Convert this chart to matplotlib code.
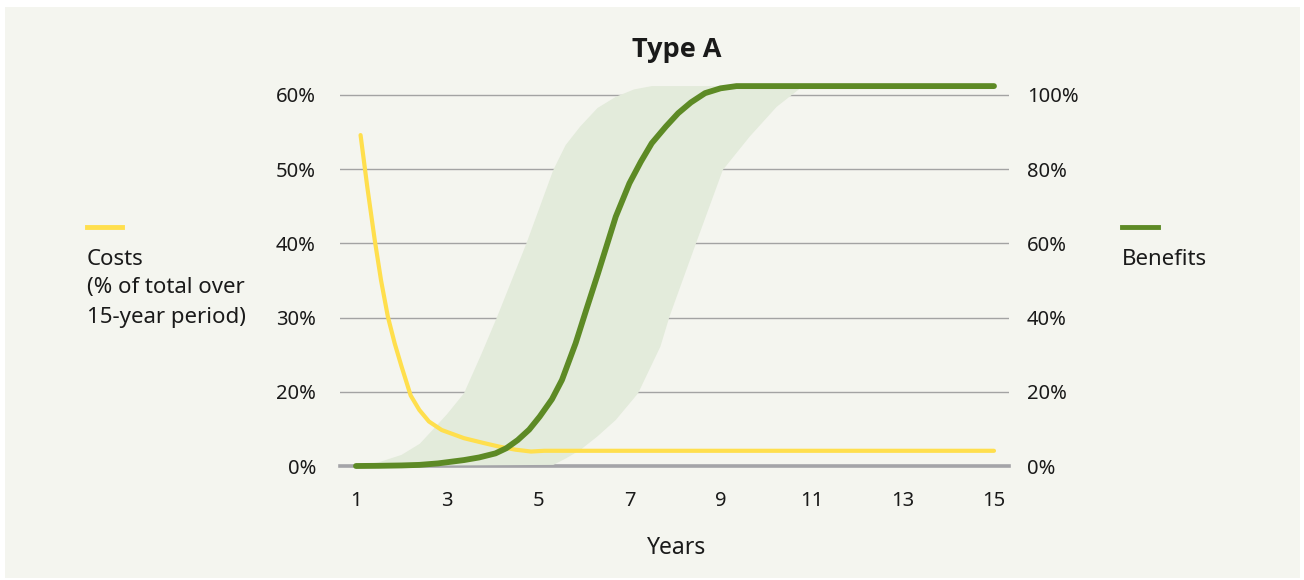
import numpy as np
import matplotlib
matplotlib.use("Agg")
import matplotlib.pyplot as plt
from matplotlib.patches import Rectangle

plt.rcParams['font.family'] = ['Noto Sans', 'DejaVu Sans']

# ---------------- data ----------------
years_ticks = [1, 3, 5, 7, 9, 11, 13, 15]

# Costs (left axis, % of total over 15-year period)
cost_years = [1.1, 1.25, 1.41, 1.55, 1.70, 1.85, 2.0, 2.2, 2.39, 2.6, 2.88,
              3.37, 3.8, 4.15, 4.5, 4.84, 5.13, 15]
cost_vals = [54.6, 47.5, 40.5, 35.0, 30.1, 26.5, 23.4, 19.0, 15.1, 12.0, 9.7,
             7.5, 6.2, 5.2, 4.4, 3.9, 4.1, 4.1]

# Benefits (right axis)
ben_years = [1, 1.5, 2, 2.39, 2.8, 3.37, 3.7, 4.06, 4.3, 4.55, 4.8, 5.03,
             5.3, 5.52, 5.82, 6.05, 6.31, 6.7, 7.0, 7.25, 7.49, 7.8, 8.07,
             8.35, 8.66, 9.0, 9.35, 15]
ben_vals = [0, 0.05, 0.15, 0.3, 0.7, 1.6, 2.3, 3.4, 4.8, 7.0, 9.8, 13.3,
            18.0, 23.2, 33.1, 42.0, 51.9, 67.2, 76.2, 82.0, 87.0, 91.5, 95.1,
            98.0, 100.5, 101.8, 102.4, 102.4]

# Benefits range band (right axis)
band_up_years = [1, 1.5, 2.0, 2.4, 2.68, 3.0, 3.37, 3.76, 4.10, 4.74, 5.33,
                 5.6, 5.92, 6.3, 6.70, 7.1, 7.49, 10.81]
band_up_vals = [0, 1.0, 3.0, 6.0, 9.7, 14.0, 19.6, 30.4, 40.3, 60.0, 79.8,
                86.5, 91.5, 96.5, 99.5, 101.5, 102.4, 102.4]
band_lo_years = [1, 5.33, 5.6, 5.92, 6.3, 6.70, 7.19, 7.68, 7.88, 8.46, 9.05,
                 9.64, 10.23, 10.81]
band_lo_vals = [0, 0.3, 2.0, 4.3, 8.0, 12.4, 19.6, 32.2, 40.3, 60.0, 79.8,
                88.8, 96.8, 102.4]

left_ticks = [0, 20, 30, 40, 50, 60]
left_labels = ['0%', '20%', '30%', '40%', '50%', '60%']
right_ticks = [0, 20, 40, 60, 80, 100]
right_labels = ['0%', '20%', '40%', '60%', '80%', '100%']

# ---------------- style ----------------
BG = '#f4f5ef'
YELLOW = '#ffdf4d'
GREEN = '#5d8a25'
BAND = '#e3ebdb'
GRID = '#a3a3a3'
TXT = '#1a1a1a'
FS = 14.5
LFS = 16

W, H = 1304, 580
fig = plt.figure(figsize=(W / 100, H / 100), dpi=100)
fig.patch.set_facecolor('white')
fig.patches.append(Rectangle((5 / W, 2 / H), 1295 / W, 571 / H,
                             transform=fig.transFigure, facecolor=BG,
                             edgecolor='none', zorder=-10))

x0, x1 = 340, 1009
ybot, ytop = 466, 80
ax = fig.add_axes([x0 / W, 1 - ybot / H, (x1 - x0) / W, (ybot - ytop) / H])
ax.patch.set_visible(False)

# left axis: scale defined by its (unevenly spaced) labels
lv = [0, 20, 30, 40, 50, 60, 70]
lp = [0, 1, 2, 3, 4, 5, 6]
fwd = lambda v: np.interp(v, lv, lp)
inv = lambda p: np.interp(p, lp, lv)
ax.set_yscale('function', functions=(fwd, inv))

top_pos = (ybot - ytop) / ((ybot - 95) / 5)
ax.set_ylim(0, inv(top_pos))
ax.set_xlim(1 - 16 / 45.571, 1 + (x1 - 356) / 45.571)

ax2 = ax.twinx()
ax2.set_ylim(0, top_pos * 20)
ax2.set_xlim(ax.get_xlim())

for a in (ax, ax2):
    for s in a.spines.values():
        s.set_visible(False)
    a.tick_params(length=0)

# gridlines (on left axis, below everything)
for t in left_ticks[1:]:
    ax.axhline(t, color=GRID, lw=1.0, zorder=0)
ax.axhline(0, color='#a4a4a8', lw=2.6, zorder=1, clip_on=False)

# band
poly_x = list(band_up_years) + list(band_lo_years[::-1])
poly_y = list(band_up_vals) + list(band_lo_vals[::-1])
ax2.fill(poly_x, poly_y, color=BAND, lw=0, zorder=1)

# costs line drawn in ax2 layer using left-axis transform
ax2.plot(cost_years, cost_vals, color=YELLOW, lw=3.0, zorder=2,
         transform=ax.transData, solid_capstyle='round', solid_joinstyle='round')
ax2.plot(ben_years, ben_vals, color=GREEN, lw=4.2, zorder=3, clip_on=False,
         solid_capstyle='round', solid_joinstyle='round')

ax.set_xticks(years_ticks)
ax.set_xticklabels([str(y) for y in years_ticks], fontsize=FS, color=TXT)
ax.tick_params(axis='x', pad=18)
ax.set_yticks(left_ticks)
ax.set_yticklabels(left_labels, fontsize=FS, color=TXT)
ax.tick_params(axis='y', pad=17.3)
ax.yaxis.set_minor_locator(matplotlib.ticker.NullLocator())
ax2.set_yticks(right_ticks)
ax2.set_yticklabels(right_labels, fontsize=FS, color=TXT)
ax2.tick_params(axis='y', pad=13)

# titles
fig.text(677 / W, 1 - 50 / H, 'Type A', ha='center', va='center',
         fontsize=19.5, fontweight='bold', color=TXT,
         family=['Open Sans', 'Lato', 'DejaVu Sans'])
fig.text(677 / W, 1 - 548 / H, 'Years', ha='center', va='center',
         fontsize=16.5, color=TXT)

# side legends
fig.add_artist(plt.Line2D([87 / W, 122 / W], [1 - 227 / H, 1 - 227 / H],
                          color=YELLOW, lw=3.5, transform=fig.transFigure))
fig.text(87 / W, 1 - 259 / H, 'Costs', ha='left', va='center',
         fontsize=LFS, color=TXT)
fig.text(87 / W, 1 - 288 / H, '(% of total over', ha='left', va='center',
         fontsize=LFS, color=TXT)
fig.text(87 / W, 1 - 317 / H, '15-year period)', ha='left', va='center',
         fontsize=LFS, color=TXT)

fig.add_artist(plt.Line2D([1122 / W, 1158 / W], [1 - 227 / H, 1 - 227 / H],
                          color=GREEN, lw=3.5, transform=fig.transFigure))
fig.text(1122 / W, 1 - 259 / H, 'Benefits', ha='left', va='center',
         fontsize=LFS, color=TXT)

fig.savefig('out.png', dpi=100, facecolor=fig.get_facecolor())
